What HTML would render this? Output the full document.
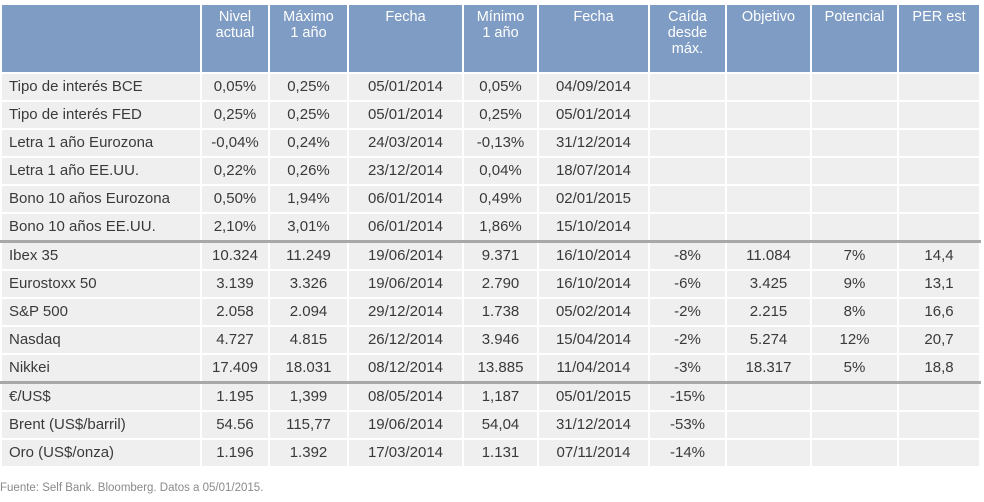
<!DOCTYPE html>
<html><head><meta charset="utf-8"><style>
body{margin:0;width:984px;height:502px;background:#fff;font-family:"Liberation Sans","DejaVu Sans",sans-serif;overflow:hidden;position:relative}
table{position:absolute;left:0;top:3px;border-collapse:collapse;table-layout:fixed;width:979px}
td,th{padding:0;font-size:15px;color:#3a3a3a;text-align:center;border:2px solid #fff;white-space:nowrap;overflow:hidden}
th{background:#7f9cc4;color:#fff;font-weight:normal;vertical-align:top;height:63px;line-height:16px;padding-top:4px;font-size:14.5px}
td{background:#efefef;height:26px;line-height:26px}
td:first-child{text-align:left;padding-left:7px}
tr.sep td{border-top:3px solid #a8a8a8}
#src{position:absolute;left:0;top:482px;font-size:11.5px;color:#8a8a8a}
</style></head><body>
<table>
<colgroup><col style="width:200px"><col style="width:68px"><col style="width:79px"><col style="width:115px"><col style="width:75px"><col style="width:111px"><col style="width:77px"><col style="width:85px"><col style="width:87px"><col style="width:82px"></colgroup>
<tr><th></th><th>Nivel<br>actual</th><th>Máximo<br>1 año</th><th>Fecha</th><th>Mínimo<br>1 año</th><th>Fecha</th><th>Caída<br>desde<br>máx.</th><th>Objetivo</th><th>Potencial</th><th>PER est</th></tr>
<tr><td>Tipo de interés BCE</td><td>0,05%</td><td>0,25%</td><td>05/01/2014</td><td>0,05%</td><td>04/09/2014</td><td></td><td></td><td></td><td></td></tr>
<tr><td>Tipo de interés FED</td><td>0,25%</td><td>0,25%</td><td>05/01/2014</td><td>0,25%</td><td>05/01/2014</td><td></td><td></td><td></td><td></td></tr>
<tr><td>Letra 1 año Eurozona</td><td>-0,04%</td><td>0,24%</td><td>24/03/2014</td><td>-0,13%</td><td>31/12/2014</td><td></td><td></td><td></td><td></td></tr>
<tr><td>Letra 1 año EE.UU.</td><td>0,22%</td><td>0,26%</td><td>23/12/2014</td><td>0,04%</td><td>18/07/2014</td><td></td><td></td><td></td><td></td></tr>
<tr><td>Bono 10 años Eurozona</td><td>0,50%</td><td>1,94%</td><td>06/01/2014</td><td>0,49%</td><td>02/01/2015</td><td></td><td></td><td></td><td></td></tr>
<tr><td>Bono 10 años EE.UU.</td><td>2,10%</td><td>3,01%</td><td>06/01/2014</td><td>1,86%</td><td>15/10/2014</td><td></td><td></td><td></td><td></td></tr>
<tr class="sep"><td>Ibex 35</td><td>10.324</td><td>11.249</td><td>19/06/2014</td><td>9.371</td><td>16/10/2014</td><td>-8%</td><td>11.084</td><td>7%</td><td>14,4</td></tr>
<tr><td>Eurostoxx 50</td><td>3.139</td><td>3.326</td><td>19/06/2014</td><td>2.790</td><td>16/10/2014</td><td>-6%</td><td>3.425</td><td>9%</td><td>13,1</td></tr>
<tr><td>S&amp;P 500</td><td>2.058</td><td>2.094</td><td>29/12/2014</td><td>1.738</td><td>05/02/2014</td><td>-2%</td><td>2.215</td><td>8%</td><td>16,6</td></tr>
<tr><td>Nasdaq</td><td>4.727</td><td>4.815</td><td>26/12/2014</td><td>3.946</td><td>15/04/2014</td><td>-2%</td><td>5.274</td><td>12%</td><td>20,7</td></tr>
<tr><td>Nikkei</td><td>17.409</td><td>18.031</td><td>08/12/2014</td><td>13.885</td><td>11/04/2014</td><td>-3%</td><td>18.317</td><td>5%</td><td>18,8</td></tr>
<tr class="sep"><td>€/US$</td><td>1.195</td><td>1,399</td><td>08/05/2014</td><td>1,187</td><td>05/01/2015</td><td>-15%</td><td></td><td></td><td></td></tr>
<tr><td>Brent (US$/barril)</td><td>54.56</td><td>115,77</td><td>19/06/2014</td><td>54,04</td><td>31/12/2014</td><td>-53%</td><td></td><td></td><td></td></tr>
<tr><td>Oro (US$/onza)</td><td>1.196</td><td>1.392</td><td>17/03/2014</td><td>1.131</td><td>07/11/2014</td><td>-14%</td><td></td><td></td><td></td></tr>
</table>
<div id="src">Fuente: Self Bank. Bloomberg. Datos a 05/01/2015.</div>
</body></html>
